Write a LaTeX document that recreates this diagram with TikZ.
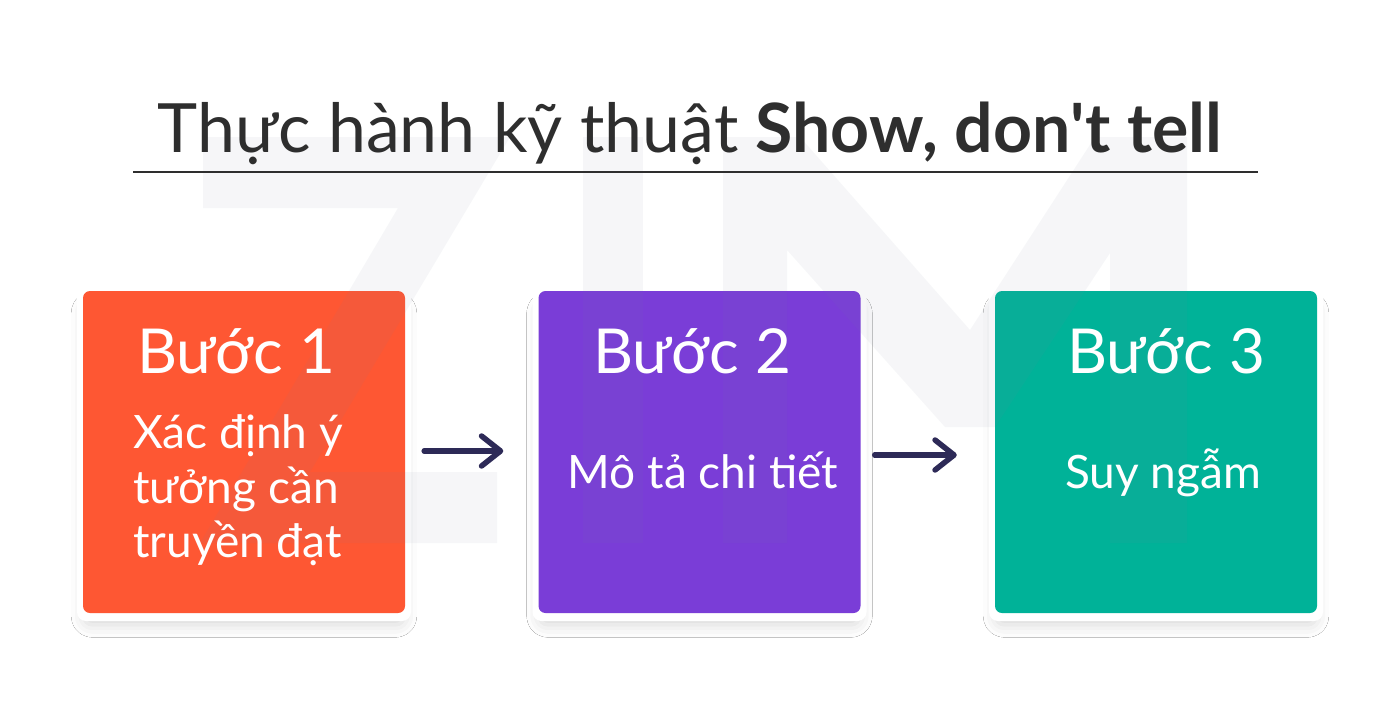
\documentclass[tikz,border=0pt]{standalone}
\usepackage{fontspec}
\setmainfont{Lato}
\usetikzlibrary{arrows.meta,shadows.blur}
\definecolor{stepOrange}{HTML}{FE5733}
\definecolor{stepPurple}{HTML}{7A3DD7}
\definecolor{stepTeal}{HTML}{00B298}
\definecolor{titleInk}{HTML}{2E2E2E}
\definecolor{arrowInk}{HTML}{2D2A57}
\definecolor{markInk}{HTML}{78829E}
\tikzset{
  framebox/.style={rectangle, rounded corners=9pt, fill=white, minimum width=334pt, minimum height=334pt, inner sep=0pt,
    blur shadow={shadow xshift=0pt, shadow yshift=-11pt, shadow blur radius=13pt, shadow opacity=16, shadow scale=0.96}},
  stepbox/.style={rectangle, rounded corners=7pt, minimum width=322pt, minimum height=322pt, inner sep=0pt},
  headtext/.style={text=white, anchor=base, inner sep=0pt, font=\fontsize{62}{66}\selectfont},
  bodytext/.style={text=white, inner sep=0pt, font=\fontsize{46}{52}\selectfont},
  flowarrow/.style={draw=arrowInk, line width=5.5pt, line cap=round, -{Straight Barb[length=19pt, width=30pt, round]}},
  watermark/.style={fill=markInk, fill opacity=0.065, draw=none}
}
\begin{document}
\begin{tikzpicture}[x=1pt,y=-1pt]
\useasboundingbox[fill=white] (0,0) rectangle (1373,718);

% frames with shadow
\node[framebox] (f1) at (244,454) {};
\node[framebox] (f2) at (699.5,454) {};
\node[framebox] (f3) at (1156,454) {};

% coloured step boxes
\node[stepbox, fill=stepOrange] (b1) at (244,452) {};
\node[stepbox, fill=stepPurple] (b2) at (699.5,452) {};
\node[stepbox, fill=stepTeal] (b3) at (1156,452) {};

% watermark ZIM
\fill[watermark] (203,137) -- (510,137) -- (310,472) -- (497,472) -- (497,543) -- (200,543) -- (398,208) -- (203,208) -- cycle;
\fill[watermark] (583,137) rectangle (643,543);
\fill[watermark] (723,137) -- (800,137) -- (970,330) -- (1095,137) -- (1187,137) -- (1187,543) -- (1110,543) -- (1110,253) -- (995,427) -- (945,427) -- (787,250) -- (787,543) -- (723,543) -- cycle;

% title
\node[anchor=base, inner sep=0pt, text=titleInk, font=\fontsize{68}{80}\selectfont] (title) at (690,152)
  {Thực hành kỹ thuật \textbf{Show, don\textquotesingle t tell}};
\coordinate (ulL) at (133,172);
\coordinate (ulR) at (1258,172);
\draw[titleInk, line width=2.5pt] (ulL) -- (ulR);

% texts
\node[headtext] (h1) at (236,373) {Bước 1};
\node[headtext] (h2) at (692,373) {Bước 2};
\node[headtext] (h3) at (1166,373) {Bước 3};

\node[bodytext, anchor=base west] (t1a) at (133,448) {Xác định ý};
\node[bodytext, anchor=base west] (t1b) at (133,503) {tưởng cần};
\node[bodytext, anchor=base west] (t1c) at (133,557) {truyền đạt};
\node[bodytext, anchor=base] (t2) at (703,488) {Mô tả chi tiết};
\node[bodytext, anchor=base] (t3) at (1163,488) {Suy ngẫm};

% arrows
\draw[flowarrow, shorten <=19pt, shorten >=35pt] ([yshift=1pt]b1.east) -- ([yshift=1pt]b2.west);
\draw[flowarrow, shorten <=14pt, shorten >=38pt] ([yshift=-3pt]b2.east) -- ([yshift=-3pt]b3.west);
\end{tikzpicture}
\end{document}
